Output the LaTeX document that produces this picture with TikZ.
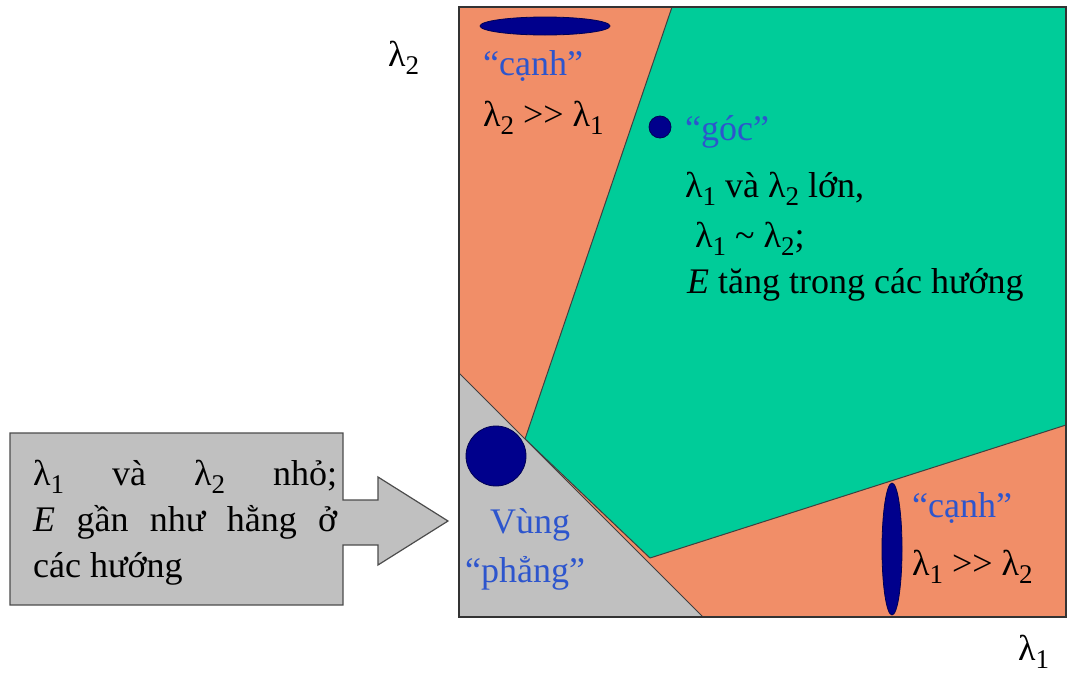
\documentclass[tikz,border=0pt]{standalone}
\usepackage{fontspec}
\setmainfont{Liberation Serif}
\usepackage{xcolor}
\usetikzlibrary{positioning}

\definecolor{edgeorange}{RGB}{241,142,104}
\definecolor{cornergreen}{RGB}{0,204,153}
\definecolor{flatgray}{RGB}{192,192,192}
\definecolor{blobblue}{RGB}{0,0,140}
\definecolor{labelblue}{RGB}{45,85,205}
\newcommand{\lam}[1]{λ\raisebox{-0.24em}{\fontsize{27}{27}\selectfont #1}}
\newcommand{\muchgt}{>\kern0pt>}

\begin{document}
\begin{tikzpicture}[x=1pt, y=-1pt,
    region/.style={draw=black!75, line width=1pt, line join=round},
    blob/.style={fill=blobblue, draw=blobblue!60!black, line width=0.8pt},
    lbl/.style={anchor=base west, inner sep=0pt, font=\fontsize{36}{46}\selectfont},
    bluelbl/.style={lbl, text=labelblue}
]

\useasboundingbox (0,0) rectangle (1068,675);

\fill[edgeorange] (459,7) rectangle (1066,617);
\filldraw[region, fill=cornergreen] (672,7) -- (1066,7) -- (1066,425) -- (650,558) -- (525,439) -- cycle;
\filldraw[region, fill=flatgray] (459,373) -- (703,617) -- (459,617) -- cycle;
\draw[black!80, line width=1.6pt] (459,7) rectangle (1066,617);

\filldraw[fill=flatgray, draw=black!70, line width=1.2pt] (10,433) -- (343,433) -- (343,500) -- (378,500) -- (378,477) -- (448,521) -- (378,565) -- (378,545) -- (343,545) -- (343,605) -- (10,605) -- cycle;

\fill[blob] (545,26) ellipse [x radius=65, y radius=9];
\filldraw[blob] (660,127) circle [radius=11];
\filldraw[blob] (496,456) circle [radius=30];
\filldraw[blob] (892,549) ellipse [x radius=10, y radius=66];

\node[lbl] (axisy) at (388,66) {\lam{2}};
\node[bluelbl] (edgetop) at (483,75) {“cạnh”};
\node[lbl] (edgetoprule) at (483,126) {\lam{2} \muchgt{} \lam{1}};

\node[bluelbl] (corner) at (685,140) {“góc”};
\node[lbl] (cornera) at (685,197) {\lam{1} và \lam{2} lớn,};
\node[lbl] (cornerb) at (695,247) {\lam{1} \textasciitilde{} \lam{2};};
\node[lbl] (cornerc) at (687,293) {\textit{E} tăng trong các hướng};

\node[bluelbl] (flata) at (490,533) {Vùng};
\node[bluelbl] (flatb) at (465,582) {“phẳng”};

\node[bluelbl] (edgeright) at (912,517) {“cạnh”};
\node[lbl] (edgerightrule) at (912,575) {\lam{1} \muchgt{} \lam{2}};
\node[lbl] (axisx) at (1018,660) {\lam{1}};

\node[lbl, text width=304pt, align=justify] (flatnote) at (33,485)
  {\lam{1} và \lam{2} nhỏ;\linebreak \textit{E} gần như hằng ở\linebreak các hướng};

\end{tikzpicture}
\end{document}
